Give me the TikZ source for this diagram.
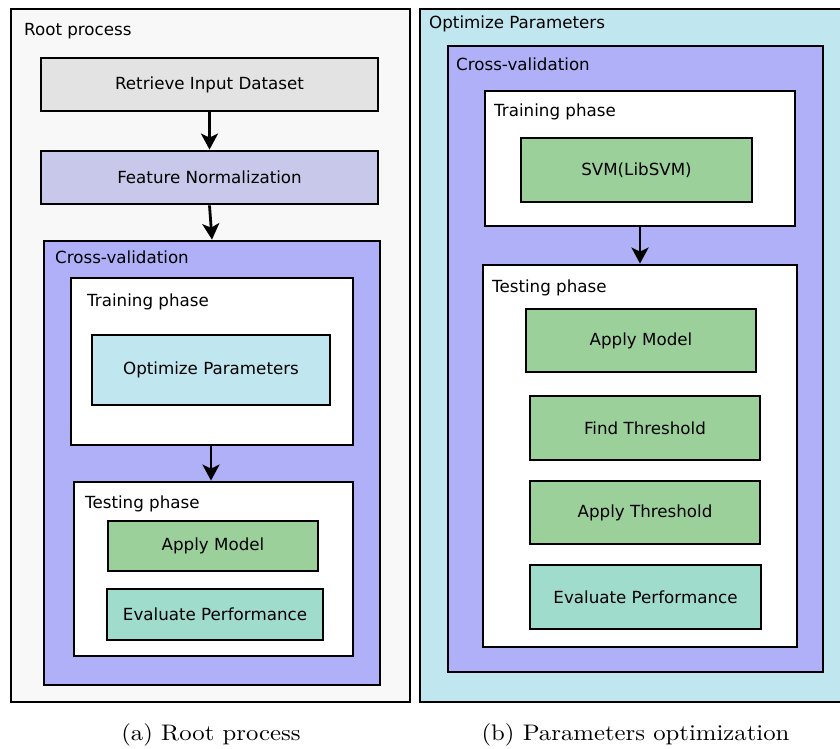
\documentclass[tikz,border=0pt]{standalone}
\usepackage{fontspec}
\newfontfamily\diagfont{DejaVu Sans}
\newfontfamily\capfont{lmroman10-regular.otf}[FakeStretch=1.1]
\usetikzlibrary{arrows.meta}

\definecolor{rootbg}{RGB}{248,248,248}
\definecolor{inputgray}{RGB}{227,227,227}
\definecolor{normblue}{RGB}{200,200,234}
\definecolor{cvblue}{RGB}{176,176,248}
\definecolor{optcyan}{RGB}{192,230,240}
\definecolor{modelgreen}{RGB}{155,208,155}
\definecolor{evalteal}{RGB}{160,220,204}

\tikzset{
  frame/.style={draw=black, line width=2.8pt, rectangle, inner sep=0pt},
  container/.style={frame},
  stepbox/.style={frame, font=\diagfont\fontsize{16.7}{20}\selectfont},
  title/.style={anchor=base west, inner sep=0pt, font=\diagfont\fontsize{16.7}{20}\selectfont},
  caption/.style={anchor=base, inner sep=0pt, font=\capfont\fontsize{22.5}{27}\selectfont},
  flow/.style={line width=2.8pt, -{Stealth[length=16pt,width=17pt,inset=4pt]}},
}

% helper: rectangle node from corner (x1,y1) to corner (x2,y2)
\newcommand{\boxnode}[7]{%
  \pgfmathsetmacro{\bxc}{(#3+#5)/2}%
  \pgfmathsetmacro{\byc}{(#4+#6)/2}%
  \pgfmathsetmacro{\bxw}{#5-#3}%
  \pgfmathsetmacro{\byh}{#6-#4}%
  \node[#1, minimum width=\bxw pt, minimum height=\byh pt] (#2) at (\bxc,\byc) {#7};%
}

\begin{document}
\begin{tikzpicture}[x=1pt, y=-1pt]
\useasboundingbox (0,0) rectangle (840,749);
\clip (0,0) rectangle (840,749);

% ---------- (a) root process ----------
\boxnode{container, fill=rootbg}{rootA}{11}{9}{410}{702}{}
\node[title] (rootAt) at (24,36) {Root process};

\boxnode{stepbox, fill=inputgray}{ret}{41}{58}{378}{111}{Retrieve Input Dataset}
\boxnode{stepbox, fill=normblue}{feat}{41}{151}{378}{204}{Feature Normalization}

\boxnode{container, fill=cvblue}{cvA}{44}{241}{380}{685}{}
\node[title] (cvAt) at (55,263) {Cross-validation};

\boxnode{container, fill=white}{trA}{71}{278}{353}{445}{}
\node[title] (trAt) at (87,306) {Training phase};
\boxnode{stepbox, fill=optcyan}{optA}{92}{335}{330}{405}{Optimize Parameters}

\boxnode{container, fill=white}{teA}{74}{482}{353}{656}{}
\node[title] (teAt) at (85,508) {Testing phase};
\boxnode{stepbox, fill=modelgreen}{applyA}{108}{521}{318}{571}{Apply Model}
\boxnode{stepbox, fill=evalteal}{evalA}{107}{589}{323}{640}{Evaluate Performance}

\draw[flow] (ret.south) -- (feat.north);
\draw[flow] (feat.south) -- (cvA.north);
\draw[flow] (trA.south -| optA.center) -- (teA.north -| optA.center);

% ---------- (b) parameters optimization ----------
\boxnode{container, fill=optcyan}{rootB}{420}{9}{846}{702}{}
\node[title] (rootBt) at (429,29) {Optimize Parameters};

\boxnode{container, fill=cvblue}{cvB}{448}{46}{823}{672}{}
\node[title] (cvBt) at (456,71) {Cross-validation};

\boxnode{container, fill=white}{trB}{485}{91}{795}{226}{}
\node[title] (trBt) at (494,117) {Training phase};
\boxnode{stepbox, fill=modelgreen}{svm}{521}{138}{752}{202}{SVM(LibSVM)}

\boxnode{container, fill=white}{teB}{483}{265}{797}{647}{}
\node[title] (teBt) at (492,292) {Testing phase};
\boxnode{stepbox, fill=modelgreen}{applyB}{526}{309}{756}{372}{Apply Model}
\boxnode{stepbox, fill=modelgreen}{findB}{530}{396}{760}{460}{Find Threshold}
\boxnode{stepbox, fill=modelgreen}{applyThB}{530}{481}{760}{544}{Apply Threshold}
\boxnode{stepbox, fill=evalteal}{evalB}{530}{565}{761}{629}{Evaluate Performance}

\draw[flow] (trB.south) -- (teB.north);

% ---------- captions ----------
\node[caption] (capA) at (211,740) {(a) Root process};
\node[caption] (capB) at (635.5,740) {(b) Parameters optimization};
\end{tikzpicture}
\end{document}
